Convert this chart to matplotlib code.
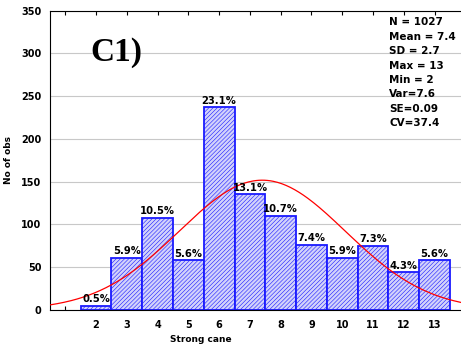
import numpy as np
import matplotlib
matplotlib.use('Agg')
import matplotlib.pyplot as plt

plt.rcParams['hatch.linewidth'] = 0.4
plt.rcParams['hatch.color'] = '#a4a4ee'

# data
classes = [2, 3, 4, 5, 6, 7, 8, 9, 10, 11, 12, 13]
counts = [5, 61, 108, 58, 237, 135, 110, 76, 61, 75, 44, 58]
percent = ['0.5%', '5.9%', '10.5%', '5.6%', '23.1%', '13.1%', '10.7%',
           '7.4%', '5.9%', '7.3%', '4.3%', '5.6%']

n_obs = 1027
mean = 7.4
sd = 2.7
stats_lines = ['N = 1027', 'Mean = 7.4', 'SD = 2.7', 'Max = 13', 'Min = 2',
               'Var=7.6', 'SE=0.09', 'CV=37.4']

fig = plt.figure(figsize=(4.61, 3.47), dpi=100)
ax = fig.add_axes([0.108, 0.107, 0.935, 0.862])

ax.bar(classes, counts, width=1.0, facecolor='#d2d2fb', edgecolor='#1a1aff',
       linewidth=1.3, hatch='////////', zorder=2)

for x, c, p in zip(classes, counts, percent):
    ax.text(x, c + 2, p, ha='center', va='bottom', fontsize=7.2,
            fontweight='bold', zorder=4)

# fitted normal curve
xs = np.linspace(0.5, 14.5, 300)
ys = n_obs / (sd * np.sqrt(2 * np.pi)) * np.exp(-0.5 * ((xs - mean) / sd) ** 2)
ax.plot(xs, ys, color='red', linewidth=0.9, zorder=3)

ax.set_xlim(0.5, 14.5)
ax.set_ylim(0, 350)
ax.set_xticks(range(1, 15))
ax.set_xticklabels([str(t) if 2 <= t <= 13 else '' for t in range(1, 15)])
ax.set_yticks(range(0, 351, 50))
ax.tick_params(axis='x', direction='in', length=3, top=True, labelsize=7,
               pad=7)
ax.tick_params(axis='y', length=0, labelsize=7, pad=6)
for lab in ax.get_xticklabels() + ax.get_yticklabels():
    lab.set_fontweight('bold')
ax.grid(axis='y', color='#c8c8c8', linewidth=0.8, zorder=0)
ax.set_axisbelow(True)
ax.spines['right'].set_visible(False)

ax.set_xlabel('Strong cane', fontsize=6.5, fontweight='bold')
ax.xaxis.set_label_coords(0.35, -0.085)
ax.set_ylabel('No of obs', fontsize=6.5, fontweight='bold', labelpad=6)

ax.text(0.095, 0.86, 'C1)', transform=ax.transAxes, fontsize=24,
        fontweight='bold', family='Liberation Serif', va='center')

ax.text(0.787, 0.978, '\n'.join(stats_lines), transform=ax.transAxes,
        fontsize=7.5, fontweight='bold', va='top', ha='left', linespacing=1.55)

fig.savefig('out.png', dpi=100)
